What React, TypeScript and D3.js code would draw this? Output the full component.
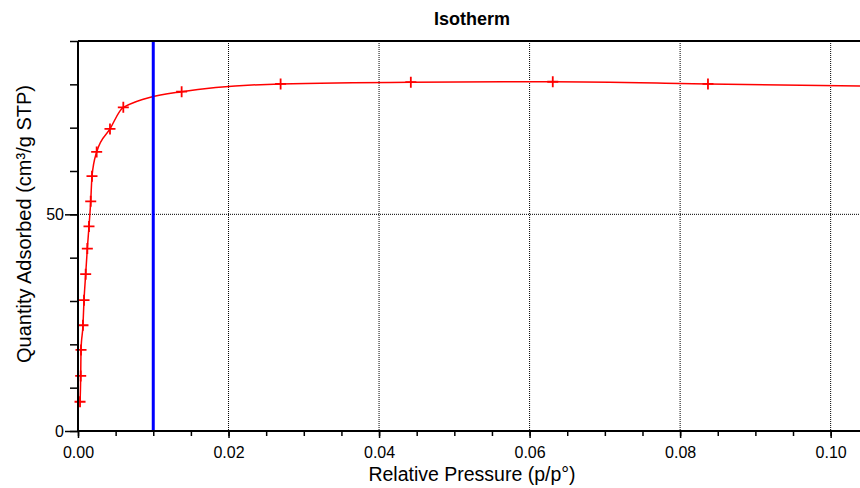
import { scaleLinear, axisBottom, axisLeft, select, line, curveMonotoneX, format } from 'd3'
import { useEffect, useRef } from 'react'

// measured isotherm points (p/p°, cm³/g STP)
const pressure = [0.00027, 0.00036, 0.0004, 0.00066, 0.0008, 0.00102, 0.00124, 0.00146, 0.00169, 0.00186,
  0.00248, 0.00425, 0.00602, 0.01377, 0.02692, 0.04422, 0.06308, 0.0837]
const quantity = [6.75, 12.7, 18.7, 24.4, 30.2, 36.2, 42.1, 47.2, 53.0, 58.8,
  64.4, 69.7, 74.7, 78.3, 80.1, 80.5, 80.6, 80.1]

// where the fitted curve runs on past the last point
const tailPressure = [0.1039]
const tailQuantity = [79.6]

const xMajorTicks = [0, 0.02, 0.04, 0.06, 0.08, 0.1]
const xMinorTicks = [0, 0.005, 0.01, 0.015, 0.02, 0.025, 0.03, 0.035, 0.04, 0.045, 0.05, 0.055, 0.06, 0.065,
  0.07, 0.075, 0.08, 0.085, 0.09, 0.095, 0.1]
const yMajorTicks = [0, 50]
const yMinorTicks = [0, 10, 20, 30, 40, 50, 60, 70, 80, 90]
const gridX = [0.02, 0.04, 0.06, 0.08, 0.1]
const gridY = [50]
const markerLine = 0.01

const title = 'Isotherm'
const xTitle = 'Relative Pressure (p/p°)'
const yTitle = 'Quantity Adsorbed (cm³/g STP)'

const FONT = '"Liberation Sans", Arial, sans-serif'

const App = () => {
  const width = 860
  const height = 488
  const margin = { top: 41, right: 0, bottom: 57, left: 78 }
  const plotWidth = width - margin.left - margin.right
  const plotHeight = height - margin.top - margin.bottom

  const xScale = scaleLinear().domain([0, 0.1039]).range([0, plotWidth])
  const yScale = scaleLinear().domain([0, 90]).range([plotHeight, 0])

  const xAxisRef = useRef<SVGGElement>(null)
  const yAxisRef = useRef<SVGGElement>(null)

  const points = pressure.map((p, i) => ({ x: p, y: quantity[i] }))
  const curvePoints = points.concat(tailPressure.map((p, i) => ({ x: p, y: tailQuantity[i] })))

  const lineGenerator = line<{ x: number; y: number }>()
    .x(d => xScale(d.x))
    .y(d => yScale(d.y))
    .curve(curveMonotoneX)

  useEffect(() => {
    if (xAxisRef.current) {
      const g = select(xAxisRef.current)
      g.selectAll('*').remove()
      g.append('g').call(axisBottom(xScale).tickValues(xMinorTicks).tickSize(5).tickFormat(() => ''))
      g.append('g').call(axisBottom(xScale).tickValues(xMajorTicks).tickSize(7).tickPadding(9).tickFormat(format('.2f')))
      g.selectAll('.domain').remove()
      g.selectAll('line').attr('stroke', '#000').attr('stroke-width', 1.5)
      g.selectAll('text').attr('font-family', FONT).attr('font-size', 16).attr('fill', '#000')
    }
    if (yAxisRef.current) {
      const g = select(yAxisRef.current)
      g.selectAll('*').remove()
      g.append('g').call(axisLeft(yScale).tickValues(yMinorTicks).tickSize(8).tickFormat(() => ''))
      g.append('g').call(axisLeft(yScale).tickValues(yMajorTicks).tickSize(13).tickPadding(1).tickFormat(format('d')))
      g.selectAll('.domain').remove()
      g.selectAll('line').attr('stroke', '#000').attr('stroke-width', 1.5)
      g.selectAll('text').attr('font-family', FONT).attr('font-size', 16).attr('fill', '#000')
    }
  }, [])

  return (
    <svg width={width} height={height} style={{ position: 'absolute', left: 0, top: 0, background: '#fff' }}>
      <text x={472} y={25} textAnchor="middle" fontFamily={FONT} fontWeight="bold" fontSize={18}>{title}</text>
      <g transform={`translate(${margin.left}, ${margin.top})`}>
        {gridX.map(v => (
          <line key={`gx${v}`} x1={xScale(v)} x2={xScale(v)} y1={0} y2={plotHeight}
            stroke="#000" strokeWidth={1} strokeDasharray="1 1" />
        ))}
        {gridY.map(v => (
          <line key={`gy${v}`} x1={0} x2={plotWidth} y1={yScale(v)} y2={yScale(v)}
            stroke="#000" strokeWidth={1} strokeDasharray="1 1" />
        ))}
        <path d={lineGenerator(curvePoints) || ''} fill="none" stroke="#ff0000" strokeWidth={1.5} />
        {points.map((d, i) => (
          <path key={i} transform={`translate(${xScale(d.x)}, ${yScale(d.y)})`}
            d="M-5.5,0H5.5M0,-5.5V5.5" stroke="#ff0000" strokeWidth={1.8} fill="none" />
        ))}
        <line x1={xScale(markerLine)} x2={xScale(markerLine)} y1={0} y2={plotHeight} stroke="#0000ff" strokeWidth={3} />
        <line x1={0} x2={plotWidth} y1={0} y2={0} stroke="#000" strokeWidth={2} />
        <line x1={0} x2={plotWidth} y1={plotHeight} y2={plotHeight} stroke="#000" strokeWidth={2} />
        <line x1={0} x2={0} y1={0} y2={plotHeight} stroke="#000" strokeWidth={2} />
        <g ref={yAxisRef} />
        <g ref={xAxisRef} transform={`translate(0, ${plotHeight})`} />
      </g>
      <text x={472} y={481} textAnchor="middle" fontFamily={FONT} fontSize={19.5}>{xTitle}</text>
      <text transform={`translate(31, 224) rotate(-90)`} textAnchor="middle" fontFamily={FONT} fontSize={20}>{yTitle}</text>
    </svg>
  )
}

export default App
